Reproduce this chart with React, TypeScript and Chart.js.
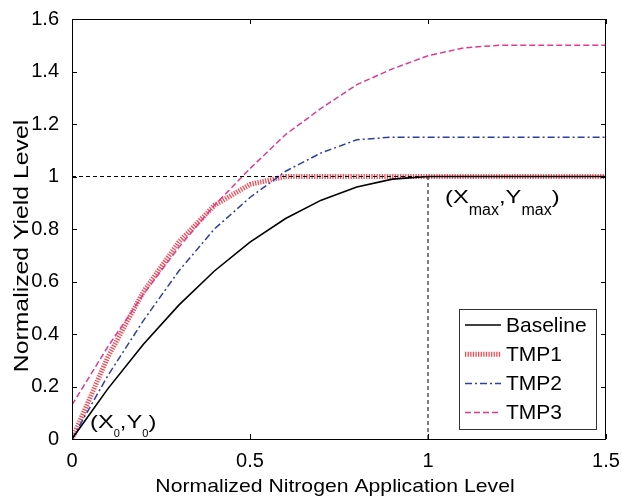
import React, { useEffect, useRef } from "react";
import { Chart, registerables } from "chart.js";

Chart.register(...registerables);

const xValues = [0, 0.1, 0.2, 0.3, 0.4, 0.5, 0.6, 0.7, 0.8, 0.9, 1.0, 1.1, 1.2, 1.3, 1.4, 1.5];
const baselineValues = [0, 0.19, 0.36, 0.51, 0.64, 0.75, 0.84, 0.91, 0.96, 0.99, 1.0, 1.0, 1.0, 1.0, 1.0, 1.0];
const tmp1Values = [0, 0.31, 0.56, 0.75, 0.89, 0.97, 1.0, 1.0, 1.0, 1.0, 1.0, 1.0, 1.0, 1.0, 1.0, 1.0];
const tmp2Values = [0, 0.24, 0.45, 0.64, 0.8, 0.92, 1.02, 1.09, 1.14, 1.15, 1.15, 1.15, 1.15, 1.15, 1.15, 1.15];
const tmp3Values = [0.13, 0.35, 0.55, 0.73, 0.89, 1.03, 1.16, 1.26, 1.35, 1.41, 1.46, 1.49, 1.5, 1.5, 1.5, 1.5];
const xTicks = [0, 0.5, 1, 1.5];
const yTicks = [0, 0.2, 0.4, 0.6, 0.8, 1.0, 1.2, 1.4, 1.6];
const origin = { x: 0, y: 0 };
const optimum = { x: 1, y: 1 };
const seriesLabels = ["Baseline", "TMP1", "TMP2", "TMP3"];
const xTitle = "Normalized Nitrogen Application Level";
const yTitle = "Normalized Yield Level";

const FONT = "'Liberation Sans', Arial, Helvetica, sans-serif";

const pts = (ys: number[]) => xValues.map((x, i) => ({ x, y: ys[i] }));

type Part = { t: string; sub?: boolean };

function drawRich(
  ctx: CanvasRenderingContext2D,
  x: number,
  y: number,
  parts: Part[],
  mainPx: number,
  subPx: number,
  sx: number,
  subDrop: number
) {
  let cx = x;
  ctx.textBaseline = "alphabetic";
  ctx.textAlign = "left";
  ctx.fillStyle = "#000";
  for (const p of parts) {
    const size = p.sub ? subPx : mainPx;
    const s = p.sub ? 1 : sx;
    ctx.save();
    ctx.font = `${size}px ${FONT}`;
    const w = ctx.measureText(p.t).width * s;
    ctx.translate(cx, p.sub ? y + subDrop : y);
    ctx.scale(s, 1);
    ctx.fillText(p.t, 0, 0);
    ctx.restore();
    cx += w;
  }
}

const framePlugin = {
  id: "framePlugin",
  afterDraw(chart: any) {
    const ctx: CanvasRenderingContext2D = chart.ctx;
    const { left, right, top, bottom } = chart.chartArea;
    const xs = chart.scales.x;
    const ys = chart.scales.y;
    ctx.save();
    ctx.strokeStyle = "#000";
    ctx.lineWidth = 1;
    ctx.setLineDash([]);
    ctx.strokeRect(Math.round(left) + 0.5, Math.round(top) + 0.5, Math.round(right - left) - 1, Math.round(bottom - top));
    const tl = 5;
    ctx.beginPath();
    for (const v of xTicks) {
      const px = Math.round(xs.getPixelForValue(v)) + 0.5;
      ctx.moveTo(px, bottom);
      ctx.lineTo(px, bottom - tl);
      ctx.moveTo(px, top);
      ctx.lineTo(px, top + tl);
    }
    for (const v of yTicks) {
      const py = Math.round(ys.getPixelForValue(v)) + 0.5;
      ctx.moveTo(left, py);
      ctx.lineTo(left + tl, py);
      ctx.moveTo(right, py);
      ctx.lineTo(right - tl, py);
    }
    ctx.stroke();

    // axis titles
    ctx.fillStyle = "#000";
    ctx.save();
    ctx.font = `18.6px ${FONT}`;
    ctx.textAlign = "center";
    ctx.textBaseline = "alphabetic";
    ctx.translate((left + right) / 2 - 4, 492);
    ctx.scale(1.14, 1);
    ctx.fillText(xTitle, 0, 0);
    ctx.restore();

    ctx.save();
    ctx.font = `19.5px ${FONT}`;
    ctx.textAlign = "center";
    ctx.textBaseline = "middle";
    ctx.translate(23, (top + bottom) / 2 + 17);
    ctx.rotate(-Math.PI / 2);
    ctx.scale(1.27, 1);
    ctx.fillText(yTitle, 0, 0);
    ctx.restore();

    // annotations
    const ox = xs.getPixelForValue(origin.x);
    const oy = ys.getPixelForValue(origin.y);
    drawRich(ctx, ox + 18, oy - 11, [{ t: "(X" }, { t: "0", sub: true }, { t: ",Y" }, { t: "0", sub: true }, { t: ")" }], 19, 11, 1.25, 9);
    const mx = xs.getPixelForValue(optimum.x);
    const my = ys.getPixelForValue(optimum.y);
    drawRich(ctx, mx + 17, my + 26, [{ t: "(X" }, { t: "max", sub: true }, { t: ",Y" }, { t: "max", sub: true }, { t: ")" }], 19, 16, 1.25, 12);

    // legend
    const bx = 459, by = 309, bw = 137, bh = 120;
    ctx.fillStyle = "#fff";
    ctx.fillRect(bx, by, bw, bh);
    ctx.strokeStyle = "#333";
    ctx.lineWidth = 1;
    ctx.strokeRect(bx + 0.5, by + 0.5, bw, bh);
    const dsets = chart.data.datasets.filter((d: any) => seriesLabels.includes(d.label));
    dsets.sort((a: any, b: any) => seriesLabels.indexOf(a.label) - seriesLabels.indexOf(b.label));
    dsets.forEach((d: any, i: number) => {
      const yy = by + 16 + i * 29.2;
      ctx.strokeStyle = d.borderColor;
      ctx.lineWidth = d.borderWidth;
      ctx.setLineDash(d.borderDash || []);
      ctx.beginPath();
      ctx.moveTo(bx + 6, yy);
      ctx.lineTo(bx + 42, yy);
      ctx.stroke();
      ctx.setLineDash([]);
      ctx.fillStyle = "#000";
      ctx.font = `21px ${FONT}`;
      ctx.textBaseline = "middle";
      ctx.textAlign = "left";
      ctx.fillText(d.label, bx + 47, yy + 1);
    });
    ctx.restore();
  },
};

export default function App() {
  const ref = useRef<HTMLCanvasElement | null>(null);
  useEffect(() => {
    if (!ref.current) return;
    const chart = new Chart(ref.current, {
      type: "line",
      data: {
        datasets: [
          { label: "refH", data: [{ x: 0, y: optimum.y }, { x: 1.5, y: optimum.y }], borderColor: "#000", borderWidth: 1, borderDash: [4, 3], pointRadius: 0, order: 0 },
          { label: "refV", data: [{ x: optimum.x, y: 0 }, { x: optimum.x, y: optimum.y }], borderColor: "#000", borderWidth: 1, borderDash: [4, 3], pointRadius: 0, order: 0 },
          { label: seriesLabels[0], data: pts(baselineValues), borderColor: "#000", borderWidth: 1.6, pointRadius: 0, order: 1 },
          { label: seriesLabels[2], data: pts(tmp2Values), borderColor: "#2f3f9f", borderWidth: 1.5, borderDash: [7, 3, 2, 3], pointRadius: 0, order: 2 },
          { label: seriesLabels[3], data: pts(tmp3Values), borderColor: "#de3890", borderWidth: 1.5, borderDash: [6, 3], pointRadius: 0, order: 3 },
          { label: seriesLabels[1], data: pts(tmp1Values), borderColor: "rgba(238,45,55,0.85)", borderWidth: 5, borderDash: [1.3, 1.3], pointRadius: 0, order: 4 },
        ],
      },
      options: {
        animation: false,
        responsive: false,
        events: [],
        layout: { padding: { top: 19, right: 16, left: 0, bottom: 0 } },
        plugins: { legend: { display: false }, tooltip: { enabled: false } },
        elements: { line: { tension: 0 } },
        scales: {
          x: {
            type: "linear",
            min: 0,
            max: 1.5,
            afterBuildTicks: (s: any) => { s.ticks = xTicks.map((v) => ({ value: v })); },
            afterFit: (s: any) => { s.height = 57; },
            grid: { display: false },
            border: { display: false },
            ticks: { color: "#000", font: { family: FONT, size: 20 }, padding: 2, maxRotation: 0, callback: (v: any) => String(+Number(v).toFixed(2)) },
          },
          y: {
            type: "linear",
            min: 0,
            max: 1.6,
            afterBuildTicks: (s: any) => { s.ticks = yTicks.map((v) => ({ value: v })); },
            afterFit: (s: any) => { s.width = 72; },
            grid: { display: false },
            border: { display: false },
            ticks: { color: "#000", font: { family: FONT, size: 20 }, padding: 5, callback: (v: any) => String(+Number(v).toFixed(2)) },
          },
        },
      },
      plugins: [framePlugin],
    } as any);
    return () => chart.destroy();
  }, []);
  return (
    <div style={{ position: "fixed", left: 0, top: 0, width: 622, height: 496, background: "#fff" }}>
      <canvas ref={ref} width={622} height={496} style={{ display: "block" }} />
    </div>
  );
}
